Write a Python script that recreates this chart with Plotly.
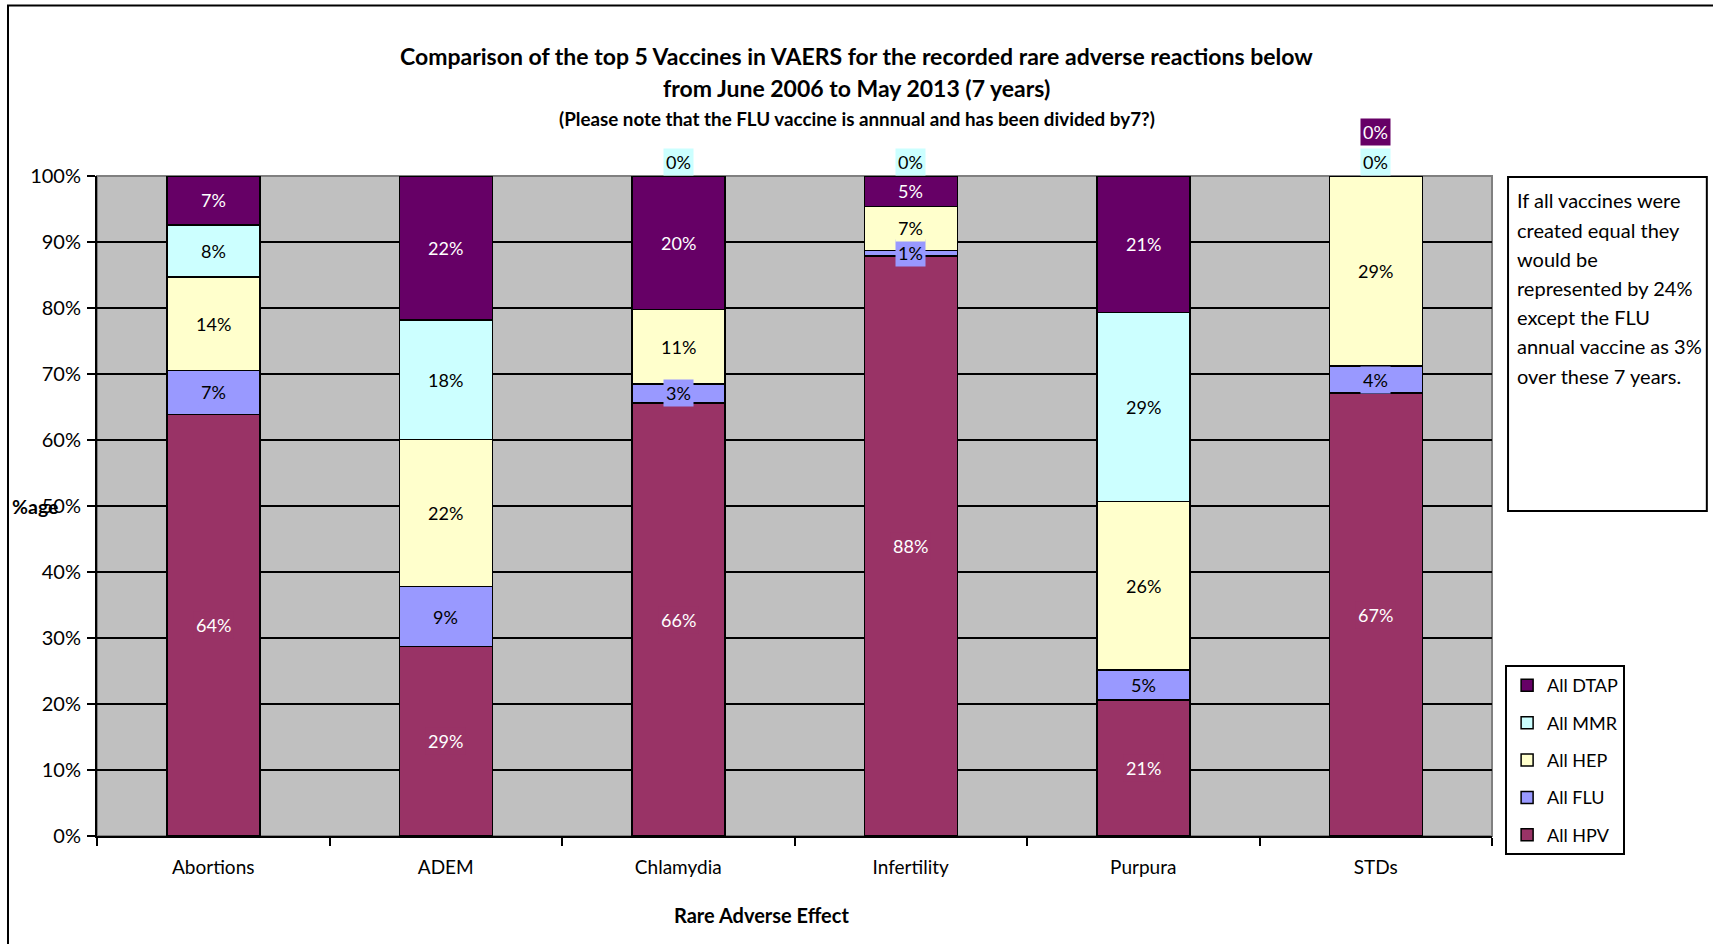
import plotly.graph_objects as go

categories = ["Abortions", "ADEM", "Chlamydia", "Infertility", "Purpura", "STDs"]
series_names = ["All HPV", "All FLU", "All HEP", "All MMR", "All DTAP"]
hpv = [0.639, 0.287, 0.656, 0.879, 0.2059, 0.671]
flu = [0.066, 0.091, 0.029, 0.008, 0.046, 0.041]
hep = [0.142, 0.223, 0.113, 0.067, 0.2551, 0.288]
mmr = [0.079, 0.181, 0.0, 0.0, 0.286, 0.0]
dtap = [0.074, 0.218, 0.202, 0.046, 0.207, 0.0]
y_ticks = [0, 0.1, 0.2, 0.3, 0.4, 0.5, 0.6, 0.7, 0.8, 0.9, 1.0]
note_lines = ["If all vaccines were", "created equal they", "would be",
              "represented by 24%", "except the FLU", "annual vaccine as 3%",
              "over these 7 years."]

series_values = [hpv, flu, hep, mmr, dtap]
colors = ["#993366", "#9999FF", "#FFFFCC", "#CCFFFF", "#660066"]
label_colors = ["white", "black", "black", "black", "white"]

FONT = "Lato, 'Open Sans', sans-serif"

fig = go.Figure()
n = len(series_names)
for i, (name, vals) in enumerate(zip(series_names, series_values)):
    fig.add_trace(go.Bar(
        x=categories, y=vals, name=name,
        marker=dict(color=colors[i], line=dict(color="black", width=1.5)),
        legendgroup=name, legendrank=n - i, hoverinfo="skip",
    ))

annotations = []
# data labels
for ci, cat in enumerate(categories):
    base = 0.0
    zero_count = 0
    for si, vals in enumerate(series_values):
        v = vals[ci]
        txt = f"{round(v * 100)}%"
        if v > 0:
            yy = base + v / 2
            yshift = 0
        else:
            yy = 1.0
            yshift = 14 + 30 * zero_count
            zero_count += 1
        annotations.append(dict(
            x=cat, y=yy, xref="x", yref="y", text=txt, showarrow=False,
            xanchor="center", yanchor="middle",
            yshift=yshift, bgcolor=colors[si], borderpad=2,
            font=dict(family=FONT, size=18, color=label_colors[si]),
        ))
        base += v


def paper_text(x, y, text, size, xanchor="center"):
    return dict(x=x, y=y, xref="paper", yref="paper", showarrow=False,
                xanchor=xanchor, yanchor="middle", text=text,
                font=dict(family=FONT, size=size, color="black"))


annotations += [
    paper_text(0.5448, 1.1818, "<b>Comparison of the top 5 Vaccines in VAERS for the recorded rare adverse reactions below</b>", 23),
    paper_text(0.5448, 1.1326, "<b>from June 2006 to May 2013 (7 years)</b>", 23),
    paper_text(0.5448, 1.0864, "<b>(Please note that the FLU vaccine is annnual and has been divided by7?)</b>", 18.8),
    paper_text(-0.0444, 0.5, "<b>%age</b>", 19.5),
    paper_text(0.476, -0.1197, "<b>Rare Adverse Effect</b>", 20),
]

# note box lines
line_y_px = [200, 229.5, 259, 288, 317, 346, 376]
for txt, ypx in zip(note_lines, line_y_px):
    annotations.append(paper_text(1.0165, (836 - ypx) / 660, txt, 20, xanchor="left"))

shapes = [
    # plot area grey border
    dict(type="rect", xref="paper", yref="paper", x0=0, x1=1, y0=0, y1=1,
         line=dict(color="#808080", width=2), fillcolor="rgba(0,0,0,0)", layer="below"),
    # note box
    dict(type="rect", xref="paper", yref="paper", x0=1.0115, x1=1.154, y0=0.4924, y1=0.9985,
         line=dict(color="black", width=2), fillcolor="white"),
    # outer chart border
    dict(type="rect", xref="paper", yref="paper", x0=-0.0638, x1=1.2, y0=-0.25, y1=1.2583,
         line=dict(color="black", width=2), fillcolor="rgba(0,0,0,0)"),
]

fig.update_layout(
    width=1713, height=944,
    margin=dict(l=97, r=221, t=176, b=108),
    paper_bgcolor="white", plot_bgcolor="#C0C0C0",
    barmode="stack", bargap=0.6,
    showlegend=True,
    legend=dict(x=1.0094, y=0.259, xanchor="left", yanchor="top",
                traceorder="grouped", tracegroupgap=11, itemwidth=30,
                bordercolor="black", borderwidth=2, bgcolor="white",
                font=dict(family=FONT, size=18, color="black")),
    annotations=annotations, shapes=shapes,
    font=dict(family=FONT, color="black"),
)
fig.update_xaxes(
    showgrid=False, showline=True, linecolor="black", linewidth=2,
    ticks="outside", tickson="boundaries", ticklen=8, tickwidth=2, tickcolor="black",
    tickfont=dict(family=FONT, size=19, color="black"), ticklabelstandoff=13,
)
fig.update_yaxes(
    range=[0, 1], tickvals=y_ticks, tickformat=".0%",
    showgrid=True, gridcolor="black", gridwidth=2,
    showline=True, linecolor="black", linewidth=2,
    ticks="outside", ticklen=8, tickwidth=2, tickcolor="black",
    tickfont=dict(family=FONT, size=20, color="black"), zeroline=False,
    ticklabelstandoff=2,
)

fig.write_html("out.html", config={"displayModeBar": False},
               post_script="document.body.style.margin='0px';")
